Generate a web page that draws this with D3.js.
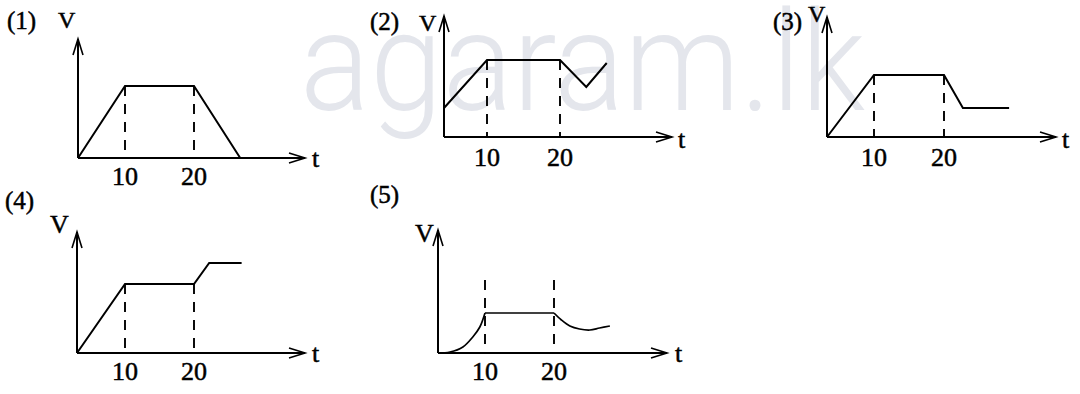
<!DOCTYPE html>
<html>
<head>
<meta charset="utf-8">
<script src="https://cdn.jsdelivr.net/npm/d3@7"></script>
<style>
  html, body { margin: 0; padding: 0; background: #fff; }
  svg { display: block; }
</style>
</head>
<body>
<svg id="chart" width="1080" height="394"></svg>
<script>
// ---------------- DATA ----------------
const panelLabels = ["(1)", "(2)", "(3)", "(4)", "(5)"];
const tickValues = [10, 20];
const tickLabels = ["10", "20"];
const axisXLabel = "t";
const axisYLabel = "V";
const watermark = "agaram.lk";

// Panel 1
const s1T = [0, 10, 20, 26.7];
const s1V = [0, 7.2, 7.2, 0];
// Panel 2
const s2T = [0, 10, 20, 23.6, 26.4];
const s2V = [2.9, 7.7, 7.7, 5.0, 7.4];
// Panel 3
const s3T = [0, 10, 20, 22.7, 29.3];
const s3V = [0, 6.2, 6.2, 2.9, 2.9];
// Panel 4
const s4T = [0, 10, 20, 22.2, 26.9];
const s4V = [0, 6.9, 6.9, 9.0, 9.0];
// Panel 5 (curved rise, flat, curved decay)
const s5aT = [0, 2.55, 5.3, 7.4, 8.9, 10];
const s5aV = [0, 0.1, 0.6, 1.6, 2.6, 4.0];
const s5bT = [10, 20];
const s5bV = [4.0, 4.0];
const s5cT = [20, 21.07, 22.3, 23.7, 25.2, 26.6, 28.1];
const s5cV = [4.0, 3.3, 2.7, 2.4, 2.3, 2.5, 2.7];

// dashed guide tops (V) per panel
const guideTop = [7.2, 7.7, 6.2, 6.9, 7.3];

// ---------------- LAYOUT ----------------
const layout = [
  { ox: 78,  oy: 158, tr: [78, 125, 194, 263],   xTip: 305,  yTip: 39,
    lab: [7, 29], v: [58, 28, 24], tl: [312, 167], tickY: 185 },
  { ox: 444, oy: 137, tr: [444, 487, 560, 633],  xTip: 672,  yTip: 16,
    lab: [370, 30], v: [419, 31, 24], tl: [678, 148], tickY: 166 },
  { ox: 827, oy: 137, tr: [827, 874, 944, 1014], xTip: 1056, yTip: 17,
    lab: [773, 30], v: [808, 22, 24], tl: [1062, 148], tickY: 166 },
  { ox: 77,  oy: 353, tr: [77, 125, 194, 263],   xTip: 305,  yTip: 232,
    lab: [5, 209], v: [50, 233, 26], tl: [312, 362], tickY: 380 },
  { ox: 438, oy: 353, tr: [438, 485, 554, 623],  xTip: 667,  yTip: 230,
    lab: [370, 203], v: [415, 242, 26], tl: [675, 362], tickY: 380 }
];

const seriesByPanel = [
  [{ t: s1T, v: s1V, curve: d3.curveLinear }],
  [{ t: s2T, v: s2V, curve: d3.curveLinear }],
  [{ t: s3T, v: s3V, curve: d3.curveLinear }],
  [{ t: s4T, v: s4V, curve: d3.curveLinear }],
  [{ t: s5aT, v: s5aV, curve: d3.curveCatmullRom },
   { t: s5bT, v: s5bV, curve: d3.curveLinear },
   { t: s5cT, v: s5cV, curve: d3.curveCatmullRom }]
];

const svg = d3.select("#chart");
const serif = "'Liberation Serif', 'Times New Roman', Times, serif";

// watermark
svg.append("text")
  .attr("x", 300).attr("y", 110)
  .attr("font-family", "Roboto, 'Open Sans', 'Liberation Sans', sans-serif")
  .attr("font-weight", 300)
  .attr("font-size", 140)
  .attr("fill", "#e4e6ec")
  .attr("textLength", 565)
  .attr("lengthAdjust", "spacingAndGlyphs")
  .text(watermark);

function serifText(g, xx, yy, size, str, anchor) {
  return g.append("text").attr("x", xx).attr("y", yy)
    .attr("text-anchor", anchor || "start")
    .attr("font-family", serif).attr("font-size", size)
    .attr("fill", "#000").attr("stroke", "#000").attr("stroke-width", 0.5)
    .text(str);
}

layout.forEach((L, i) => {
  const g = svg.append("g");
  const x = d3.scaleLinear().domain([0, 10, 20, 30]).range(L.tr);
  const y = d3.scaleLinear().domain([0, 12]).range([L.oy, L.oy - 120]);

  // dashed guides
  g.selectAll("line.guide").data(tickValues).enter().append("line")
    .attr("x1", d => x(d)).attr("x2", d => x(d))
    .attr("y1", y(guideTop[i])).attr("y2", y(0))
    .attr("stroke", "#000").attr("stroke-width", 1.9)
    .attr("stroke-dasharray", "10,8");

  // axes
  g.append("line").attr("x1", L.ox).attr("y1", L.oy).attr("x2", L.xTip).attr("y2", L.oy)
    .attr("stroke", "#000").attr("stroke-width", 2);
  g.append("line").attr("x1", L.ox).attr("y1", L.oy).attr("x2", L.ox).attr("y2", L.yTip)
    .attr("stroke", "#000").attr("stroke-width", 2);
  // arrowheads (open)
  g.append("path")
    .attr("d", `M${L.xTip - 16},${L.oy - 5}L${L.xTip},${L.oy}L${L.xTip - 16},${L.oy + 5}`)
    .attr("fill", "none").attr("stroke", "#000").attr("stroke-width", 1.6);
  g.append("path")
    .attr("d", `M${L.ox - 5},${L.yTip + 16}L${L.ox},${L.yTip}L${L.ox + 5},${L.yTip + 16}`)
    .attr("fill", "none").attr("stroke", "#000").attr("stroke-width", 1.6);

  // series
  seriesByPanel[i].forEach(s => {
    const pts = s.t.map((t, k) => [t, s.v[k]]);
    const line = d3.line().x(d => x(d[0])).y(d => y(d[1])).curve(s.curve);
    g.append("path").attr("d", line(pts))
      .attr("fill", "none").attr("stroke", "#000")
      .attr("stroke-width", i === 4 ? 1.7 : 2)
      .attr("stroke-linejoin", "miter");
  });

  // tick labels
  tickValues.forEach((d, k) => serifText(g, x(d), L.tickY, 26, tickLabels[k], "middle"));

  // panel label, V, t
  serifText(g, L.lab[0], L.lab[1], 25, panelLabels[i]);
  serifText(g, L.v[0], L.v[1], L.v[2], axisYLabel);
  serifText(g, L.tl[0], L.tl[1], 26, axisXLabel);
});
</script>
</body>
</html>
